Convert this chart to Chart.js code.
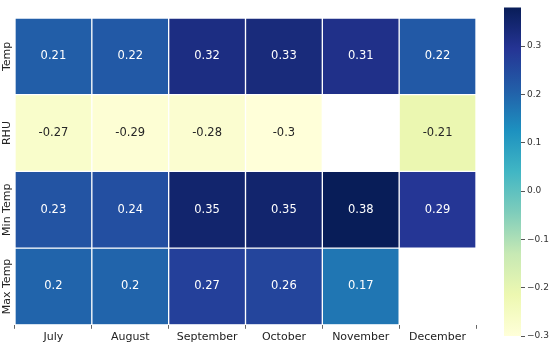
<!DOCTYPE html>
<html>
<head>
<meta charset="utf-8">
<script src="https://cdn.jsdelivr.net/npm/chart.js@4"></script>
<style>
  body { margin: 0; background: #fff; }
  #wrap { position: relative; width: 550px; height: 348px; }
  #heat { position: absolute; left: 0; top: 0; width: 482px; height: 348px; }
  #bar { position: absolute; left: 490px; top: 0; width: 60px; height: 348px; }
</style>
</head>
<body>
<div id="wrap">
  <div id="heat"><canvas id="heatmap"></canvas></div>
  <div id="bar"><canvas id="colorbar"></canvas></div>
</div>
<script>
// chart data
const months = ['July', 'August', 'September', 'October', 'November', 'December'];
const rows = ['Temp', 'RHU', 'Min Temp', 'Max Temp'];
const temp = [0.21, 0.22, 0.32, 0.33, 0.31, 0.22];
const rhu = [-0.27, -0.29, -0.28, -0.3, null, -0.21];
const minTemp = [0.23, 0.24, 0.35, 0.35, 0.38, 0.29];
const maxTemp = [0.2, 0.2, 0.27, 0.26, 0.17, null];
const colorbarTicks = [-0.3, -0.2, -0.1, 0.0, 0.1, 0.2, 0.3];
const vmin = -0.3, vmax = 0.38;

const rowValues = [temp, rhu, minTemp, maxTemp];

// YlGnBu colormap stops
const ylgnbu = ['#ffffd9', '#edf8b1', '#c7e9b4', '#7fcdbb', '#41b6c4', '#1d91c0', '#225ea8', '#253494', '#081d58'];

function hexToRgb(h) {
  return [parseInt(h.slice(1, 3), 16), parseInt(h.slice(3, 5), 16), parseInt(h.slice(5, 7), 16)];
}

function colorRgb(v) {
  let t = (v - vmin) / (vmax - vmin);
  t = Math.max(0, Math.min(1, t));
  const pos = t * (ylgnbu.length - 1);
  const i = Math.min(Math.floor(pos), ylgnbu.length - 2);
  const f = pos - i;
  const a = hexToRgb(ylgnbu[i]), b = hexToRgb(ylgnbu[i + 1]);
  return a.map((c, k) => Math.round(c + (b[k] - c) * f));
}

function colorFor(v) {
  if (v === null) return 'rgba(0,0,0,0)';
  const c = colorRgb(v);
  return 'rgb(' + c.join(',') + ')';
}

function textColorFor(v) {
  const c = colorRgb(v).map(x => {
    x = x / 255;
    return x <= 0.03928 ? x / 12.92 : Math.pow((x + 0.055) / 1.055, 2.4);
  });
  const lum = 0.2126 * c[0] + 0.7152 * c[1] + 0.0722 * c[2];
  return lum > 0.408 ? '#262626' : '#ffffff';
}

const datasets = rowValues.map((vals, r) => ({
  label: rows[r],
  data: vals.map(v => (v === null ? null : [r, r + 1])),
  values: vals,
  backgroundColor: vals.map(colorFor),
  borderColor: 'rgba(255,255,255,0.45)',
  borderWidth: 1,
  borderSkipped: false,
  barPercentage: 1,
  categoryPercentage: 1
}));

const cellLabels = {
  id: 'cellLabels',
  afterDatasetsDraw(chart) {
    const ctx = chart.ctx;
    ctx.save();
    ctx.font = '11.5px "DejaVu Sans"';
    ctx.textAlign = 'center';
    ctx.textBaseline = 'middle';
    chart.data.datasets.forEach((ds, di) => {
      const meta = chart.getDatasetMeta(di);
      meta.data.forEach((el, i) => {
        const v = ds.values[i];
        if (v === null) return;
        ctx.fillStyle = textColorFor(v);
        ctx.fillText(String(v), el.x, (el.y + el.base) / 2);
      });
    });
    // row labels on the left, rotated
    const yScale = chart.scales.y;
    ctx.font = '11px "DejaVu Sans"';
    ctx.fillStyle = '#222';
    ctx.textBaseline = 'bottom';
    rows.forEach((name, r) => {
      const y = yScale.getPixelForValue(r + 0.5);
      ctx.save();
      ctx.translate(chart.chartArea.left - 2, y);
      ctx.rotate(-Math.PI / 2);
      ctx.fillText(name, 0, 0);
      ctx.restore();
    });
    ctx.restore();
  }
};

new Chart(document.getElementById('heatmap'), {
  type: 'bar',
  data: { labels: months, datasets: datasets },
  options: {
    responsive: true,
    maintainAspectRatio: false,
    animation: false,
    events: [],
    layout: { padding: { left: 15, top: 18, right: 6, bottom: 2 } },
    plugins: { legend: { display: false }, tooltip: { enabled: false } },
    scales: {
      x: {
        stacked: true,
        grid: { drawOnChartArea: false, drawTicks: true, tickLength: 4, color: '#666' },
        border: { display: false },
        ticks: { color: '#222', font: { family: 'DejaVu Sans', size: 11 }, padding: 2 }
      },
      y: {
        type: 'linear',
        min: 0,
        max: 4,
        reverse: true,
        display: false
      }
    }
  },
  plugins: [cellLabels]
});

// colorbar
new Chart(document.getElementById('colorbar'), {
  type: 'bar',
  data: {
    labels: [''],
    datasets: [{
      data: [[vmin, vmax]],
      backgroundColor(context) {
        const area = context.chart.chartArea;
        if (!area) return ylgnbu[4];
        const y = context.chart.scales.y;
        const g = context.chart.ctx.createLinearGradient(0, y.getPixelForValue(vmin), 0, y.getPixelForValue(vmax));
        ylgnbu.forEach((c, i) => g.addColorStop(i / (ylgnbu.length - 1), c));
        return g;
      },
      borderWidth: 0,
      barPercentage: 1,
      categoryPercentage: 1
    }]
  },
  options: {
    responsive: true,
    maintainAspectRatio: false,
    animation: false,
    events: [],
    layout: { padding: { left: 14, top: 6, right: 0, bottom: 12 } },
    plugins: { legend: { display: false }, tooltip: { enabled: false } },
    scales: {
      x: { display: false },
      y: {
        position: 'right',
        min: vmin,
        max: vmax,
        afterBuildTicks(scale) {
          scale.ticks = colorbarTicks.map(v => ({ value: v }));
        },
        afterFit(scale) {
          scale.width = 29;
        },
        grid: { drawOnChartArea: false, drawTicks: true, tickLength: 4, color: '#555' },
        border: { display: false },
        ticks: {
          color: '#333',
          font: { family: 'DejaVu Sans', size: 9 },
          padding: 2,
          callback(v) {
            const s = Math.abs(v).toFixed(1);
            return v < -0.001 ? '\u2212' + s : s;
          }
        }
      }
    }
  }
});
</script>
</body>
</html>
